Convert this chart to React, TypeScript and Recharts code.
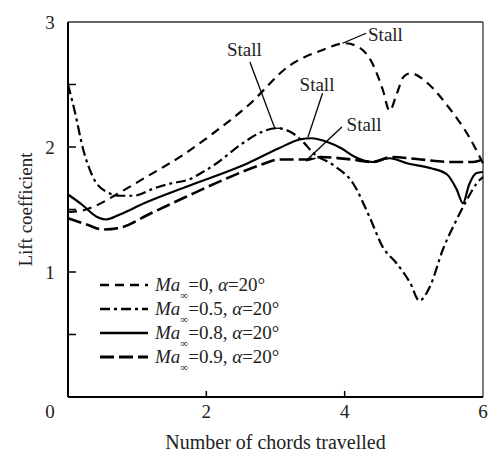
import {
  LineChart,
  Line,
  XAxis,
  YAxis,
  ReferenceLine,
  ReferenceDot,
  Legend,
} from "recharts";

// Ma = 0 (short dash)
const ma0X = [0, 0.2, 0.4, 0.7, 1.1, 1.7, 2.1, 2.6, 3.2, 3.7, 4.0, 4.2, 4.4, 4.55, 4.65, 4.75, 4.85, 4.95, 5.2, 5.5, 5.8, 6.0];
const ma0Y = [1.48, 1.49, 1.53, 1.62, 1.75, 1.95, 2.11, 2.33, 2.65, 2.78, 2.83, 2.8, 2.67, 2.46, 2.29, 2.42, 2.56, 2.59, 2.51, 2.32, 2.08, 1.87];

// Ma = 0.5 (dash-dot)
const ma05X = [0, 0.1, 0.22, 0.36, 0.56, 0.75, 0.95, 1.25, 1.5, 1.75, 1.95, 2.15, 2.5, 2.8, 3.02, 3.25, 3.4, 3.55, 3.85, 4.12, 4.36, 4.55, 4.75, 4.95, 5.08, 5.23, 5.42, 5.62, 5.77, 5.91, 6.0];
const ma05Y = [2.5, 2.28, 1.98, 1.76, 1.64, 1.61, 1.61, 1.67, 1.71, 1.74, 1.8, 1.87, 2.02, 2.12, 2.15, 2.11, 2.04, 1.95, 1.85, 1.71, 1.44, 1.2, 1.07, 0.91, 0.77, 0.88, 1.18, 1.42, 1.58, 1.71, 1.76];

// Ma = 0.8 (solid)
const ma08X = [0, 0.2, 0.42, 0.55, 0.75, 1.1, 1.7, 2.6, 3.05, 3.35, 3.52, 3.75, 3.95, 4.15, 4.4, 4.65, 4.9, 5.25, 5.48, 5.62, 5.71, 5.8, 5.9, 6.0];
const ma08Y = [1.62, 1.54, 1.44, 1.42, 1.46, 1.55, 1.68, 1.87, 1.99, 2.06, 2.07, 2.04, 1.99, 1.92, 1.88, 1.91, 1.87, 1.83, 1.78, 1.66, 1.55, 1.7, 1.79, 1.8];

// Ma = 0.9 (long dash)
const ma09X = [0, 0.27, 0.5, 0.72, 1.2, 1.7, 2.3, 2.8, 3.05, 3.3, 3.45, 3.65, 4.1, 4.4, 4.68, 5.1, 5.55, 5.85, 6.0];
const ma09Y = [1.43, 1.38, 1.34, 1.35, 1.47, 1.6, 1.75, 1.86, 1.9, 1.9, 1.9, 1.92, 1.9, 1.88, 1.92, 1.9, 1.88, 1.88, 1.9];

const xTicks = [0, 2, 4, 6];
const yTicks = [0, 0.5, 1, 1.5, 2, 2.5, 3];

// "Stall" callouts: text anchor and leader polyline, in data units
const stallText = [
  { x: 4.59, y: 2.9 },
  { x: 2.55, y: 2.78 },
  { x: 3.6, y: 2.5 },
  { x: 4.28, y: 2.18 },
];
const stallLeaders = [
  [{ x: 3.97, y: 2.83 }, { x: 4.31, y: 2.91 }],
  [{ x: 2.63, y: 2.68 }, { x: 2.99, y: 2.15 }, { x: 3.09, y: 2.15 }],
  [{ x: 3.68, y: 2.43 }, { x: 3.47, y: 2.08 }],
  [{ x: 3.96, y: 2.16 }, { x: 3.44, y: 1.89 }, { x: 3.58, y: 1.91 }],
];

const toPoints = (xs: number[], ys: number[]) => xs.map((x, i) => ({ x, y: ys[i] }));

const series = [
  { name: "0", data: toPoints(ma0X, ma0Y), dash: "9 6", width: 2.2 },
  { name: "0.5", data: toPoints(ma05X, ma05Y), dash: "10 4 3 4", width: 2.2 },
  { name: "0.8", data: toPoints(ma08X, ma08Y), dash: undefined, width: 2.2 },
  { name: "0.9", data: toPoints(ma09X, ma09Y), dash: "14 5", width: 2.6 },
];

const FONT = "'Liberation Serif', 'Times New Roman', serif";
const textStyle = { fontFamily: FONT, fontSize: 19, fill: "#222" };

const XTick = (props: any) => {
  const { x, y, payload } = props;
  const v = payload.value;
  const inner = v !== 0 && v !== 6;
  return (
    <g>
      {inner && <line x1={x} x2={x} y1={y} y2={y - 6} stroke="#000" strokeWidth={1.5} />}
      <text x={v === 0 ? x - 18 : x} y={y + 21} textAnchor="middle" style={textStyle}>
        {v}
      </text>
    </g>
  );
};

const YTick = (props: any) => {
  const { x, y, payload } = props;
  const v = payload.value;
  const major = Number.isInteger(v) && v !== 0;
  return (
    <g>
      {v !== 0 && v !== 3 && <line x1={x} x2={x + 8} y1={y} y2={y} stroke="#000" strokeWidth={1.5} />}
      {major && (
        <text x={x - 18} y={y + 6.5} textAnchor="middle" style={textStyle}>
          {v}
        </text>
      )}
    </g>
  );
};

const YLabel = (props: any) => {
  const { viewBox } = props;
  const cx = viewBox.x + 4;
  const cy = viewBox.y + viewBox.height / 2;
  return (
    <text x={cx} y={cy} transform={`rotate(-90, ${cx}, ${cy})`} textAnchor="middle" style={textStyle}>
      Lift coefficient
    </text>
  );
};

const XLabel = (props: any) => {
  const { viewBox } = props;
  return (
    <text x={viewBox.x + viewBox.width / 2} y={viewBox.y + 52} textAnchor="middle" style={{ ...textStyle, fontSize: 20 }}>
      Number of chords travelled
    </text>
  );
};

const StallLabel = (props: any) => {
  const { viewBox } = props;
  const cx = viewBox.x + (viewBox.width || 0) / 2;
  const cy = viewBox.y + (viewBox.height || 0) / 2;
  return (
    <text x={cx} y={cy + 6.5} textAnchor="middle" style={textStyle}>
      Stall
    </text>
  );
};

const LegendContent = () => (
  <div style={{ fontFamily: FONT, fontSize: 19, color: "#222" }}>
    {series.map((s) => (
      <div key={s.name} style={{ display: "flex", alignItems: "center", height: 24 }}>
        <svg width={48} height={10} style={{ marginRight: 7 }}>
          <line x1={0} x2={48} y1={5} y2={5} stroke="#000" strokeWidth={s.width + 0.5} strokeDasharray={s.dash} />
        </svg>
        <span style={{ whiteSpace: "nowrap" }}>
          <i>Ma</i>
          <span style={{ fontSize: 11, position: "relative", top: 8 }}>∞</span>=
          {s.name}, <i>α</i>=20°
        </span>
      </div>
    ))}
  </div>
);

export default function App() {
  return (
    <div style={{ position: "absolute", left: 0, top: 0, background: "#fff" }}>
      <LineChart width={489} height={454} margin={{ top: 22, right: 6, bottom: 7, left: 28 }}>
        <XAxis
          type="number"
          dataKey="x"
          domain={[0, 6]}
          ticks={xTicks}
          interval={0}
          height={50}
          tickSize={0}
          tickMargin={0}
          tickLine={false}
          tick={<XTick />}
          axisLine={{ stroke: "#000", strokeWidth: 2 }}
          label={<XLabel />}
        />
        <YAxis
          type="number"
          domain={[0, 3]}
          ticks={yTicks}
          interval={0}
          width={40}
          tickSize={0}
          tickMargin={0}
          tickLine={false}
          tick={<YTick />}
          axisLine={{ stroke: "#000", strokeWidth: 2 }}
          label={<YLabel />}
        />
        <ReferenceLine y={3} stroke="#333" strokeWidth={1.3} />
        <ReferenceLine x={6} stroke="#333" strokeWidth={1.3} />
        {series.map((s) => (
          <Line
            key={s.name}
            data={s.data}
            dataKey="y"
            type="monotone"
            stroke="#000"
            strokeWidth={s.width}
            strokeDasharray={s.dash}
            dot={false}
            activeDot={false}
            isAnimationActive={false}
          />
        ))}
        {stallLeaders.flatMap((pts, i) =>
          pts.slice(1).map((p, j) => (
            <ReferenceLine
              key={`lead-${i}-${j}`}
              segment={[pts[j], p]}
              stroke="#000"
              strokeWidth={1.3}
            />
          ))
        )}
        {stallText.map((t, i) => (
          <ReferenceDot
            key={`stall-${i}`}
            x={t.x}
            y={t.y}
            r={0}
            fill="none"
            stroke="none"
            label={<StallLabel />}
          />
        ))}
        <Legend
          layout="vertical"
          verticalAlign="middle"
          align="center"
          content={<LegendContent />}
          wrapperStyle={{ left: 100, top: 273, width: "auto" }}
        />
      </LineChart>
    </div>
  );
}
